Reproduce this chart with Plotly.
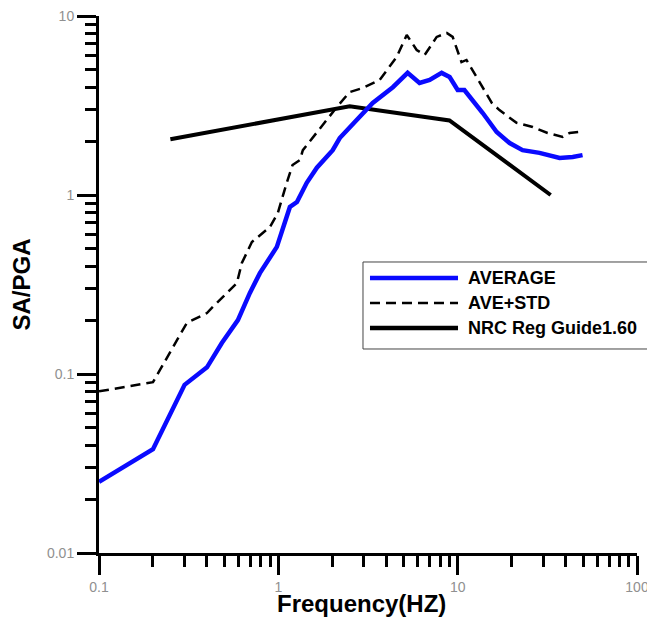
import plotly.graph_objects as go

# ---- data ----
freq_avg = [0.1, 0.2, 0.3, 0.4, 0.484, 0.595, 0.694, 0.789, 0.981, 1.087, 1.16, 1.27, 1.44,
            1.64, 2.01, 2.2, 2.96, 3.36, 4.35, 5.26, 6.13, 6.98, 8.14, 9.02, 10.0, 10.9,
            13.8, 16.5, 19.5, 23.0, 28.6, 37.0, 43.8, 49.7]
sa_avg = [0.025, 0.038, 0.087, 0.109, 0.149, 0.2, 0.284, 0.366, 0.513, 0.724, 0.857, 0.914, 1.17,
          1.42, 1.78, 2.08, 2.87, 3.27, 4.0, 4.81, 4.23, 4.39, 4.81, 4.56, 3.86, 3.86,
          2.87, 2.25, 1.95, 1.78, 1.72, 1.61, 1.63, 1.67]

freq_std = [0.1, 0.2, 0.309, 0.4, 0.431, 0.587, 0.626, 0.712, 0.897, 0.993, 1.114, 1.2, 1.32,
            1.37, 2.12, 2.5, 2.96, 3.67, 4.57, 5.2, 5.91, 6.55, 7.64, 8.69, 9.38, 10.5,
            11.2, 13.3, 15.5, 17.1, 21.3, 26.2, 31.7, 38.5, 42.1, 47.9]
sa_std = [0.080, 0.090, 0.193, 0.219, 0.237, 0.322, 0.417, 0.546, 0.662, 0.793, 1.17, 1.47, 1.57,
          1.78, 3.1, 3.76, 3.96, 4.39, 5.9, 7.83, 6.46, 6.06, 7.64, 8.04, 7.64, 5.53,
          5.68, 4.23, 3.27, 2.98, 2.53, 2.4, 2.22, 2.11, 2.22, 2.25]

freq_nrc = [0.25, 2.5, 9.0, 33.0]
sa_nrc = [2.05, 3.13, 2.61, 1.0]

series_names = ["AVERAGE", "AVE+STD", "NRC Reg Guide1.60"]

x_major = [0.1, 1, 10, 100]
x_major_text = ["0.1", "1", "10", "100"]
y_major = [0.01, 0.1, 1, 10]
y_major_text = ["0.01", "0.1", "1", "10"]
x_minor = [m * d for d in (0.1, 1, 10) for m in range(2, 10)]
y_minor = [m * d for d in (0.01, 0.1, 1) for m in range(2, 10)]

x_title = "Frequency(HZ)"
y_title = "SA/PGA"

BLUE = "#0a0aff"

fig = go.Figure()
fig.add_trace(go.Scatter(x=freq_nrc, y=sa_nrc, mode="lines", name=series_names[2],
                         line=dict(color="black", width=4), showlegend=False))
fig.add_trace(go.Scatter(x=freq_std, y=sa_std, mode="lines", name=series_names[1],
                         line=dict(color="black", width=2.5, dash="10px,6px"), showlegend=False))
fig.add_trace(go.Scatter(x=freq_avg, y=sa_avg, mode="lines", name=series_names[0],
                         line=dict(color=BLUE, width=4.5), showlegend=False))

tickfont = dict(family="Arial, Liberation Sans, sans-serif", size=14, color="#909090")
titlefont = dict(family="Arial, Liberation Sans, sans-serif", size=24, color="black")

fig.update_layout(
    width=647, height=623,
    margin=dict(l=99, r=10, t=16, b=70, autoexpand=False),
    paper_bgcolor="white", plot_bgcolor="white",
    showlegend=False,
    xaxis=dict(
        type="log", range=[-1, 2], showgrid=False, zeroline=False, automargin=False,
        showline=True, linecolor="black", linewidth=3,
        ticks="outside", ticklen=19, tickwidth=3, tickcolor="black",
        tickmode="array", tickvals=x_major, ticktext=x_major_text, tickfont=tickfont,
        ticklabeloverflow="allow",
        minor=dict(ticks="outside", ticklen=11, tickwidth=3, tickcolor="black",
                   tickmode="array", tickvals=x_minor, showgrid=False),
    ),
    yaxis=dict(
        type="log", range=[-2, 1], showgrid=False, zeroline=False, automargin=False,
        showline=True, linecolor="black", linewidth=3,
        ticks="outside", ticklen=19, tickwidth=3, tickcolor="black",
        tickmode="array", tickvals=y_major, ticktext=y_major_text, tickfont=tickfont,
        ticklabeloverflow="allow",
        minor=dict(ticks="outside", ticklen=11, tickwidth=3, tickcolor="black",
                   tickmode="array", tickvals=y_minor, showgrid=False),
        title=dict(text="<b>%s</b>" % y_title, font=titlefont, standoff=10),
    ),
)

# x-axis title placed as in the reference (slightly left of centre, close under the labels)
fig.add_annotation(xref="paper", yref="paper", x=0.487, y=-0.094, xanchor="center", yanchor="middle",
                   text="<b>%s</b>" % x_title, showarrow=False, font=titlefont)

# ---- legend box (drawn to match the reference's long line samples) ----
lx0, lx1, ly0, ly1 = 0.4907, 1.03, 0.3799, 0.5419
fig.add_shape(type="rect", xref="paper", yref="paper", x0=lx0, x1=lx1, y0=ly0, y1=ly1,
              line=dict(color="#444444", width=1), fillcolor="white", layer="above")
row_y = [0.5121, 0.4655, 0.4190]
styles = [dict(color=BLUE, width=4.5), dict(color="black", width=2.5, dash="10px,6px"),
          dict(color="black", width=4.5)]
for name, yy, st in zip(series_names, row_y, styles):
    fig.add_shape(type="line", xref="paper", yref="paper", x0=0.5037, x1=0.6673, y0=yy, y1=yy,
                  line=st, layer="above")
    fig.add_annotation(xref="paper", yref="paper", x=0.6822, y=yy, xanchor="left", yanchor="middle",
                       text="<b>%s</b>" % name, showarrow=False,
                       font=dict(family="Arial, Liberation Sans, sans-serif", size=18, color="black"))

fig.write_html("out.html", config={"displayModeBar": False},
               post_script="document.body.style.margin='0px';document.body.style.overflow='hidden';")
